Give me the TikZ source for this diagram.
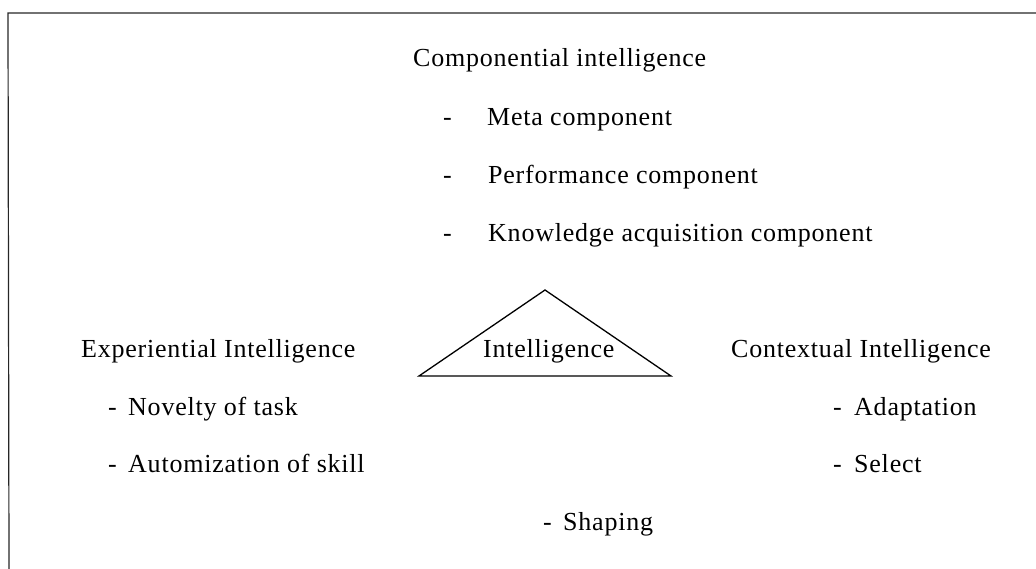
\documentclass[tikz,border=0pt]{standalone}
\usepackage{fontspec}
\setmainfont{Liberation Serif}[LetterSpace=3]
\begin{document}
\begin{tikzpicture}[x=1pt,y=-1pt,
  txt/.style={anchor=base west, inner sep=0pt, font=\fontsize{26}{30}\selectfont},
  frameline/.style={line width=1.2pt, black!85},
  tri/.style={line width=1.3pt, black}]
\useasboundingbox (0,0) rectangle (1036,569);
% frame
\coordinate (ftl) at (8,13);
\coordinate (ftr) at (1036,13);
\coordinate (fbl) at (9,569);
\draw[frameline] (ftr) -- (ftl) -- (fbl);
% componential
\node[txt] (comp) at (413,67) {Componential intelligence};
\node[txt] (d1) at (443,126) {-};
\node[txt] (meta) at (487,126) {Meta component};
\node[txt] (d2) at (443,184) {-};
\node[txt] (perf) at (488,184) {Performance component};
\node[txt] (d3) at (443,242) {-};
\node[txt] (know) at (488,242) {Knowledge acquisition component};
% triangle
\coordinate (apex) at (545,290);
\coordinate (bl) at (419,376);
\coordinate (br) at (671,376);
\draw[tri, line join=miter] (apex) -- (bl) -- (br) -- cycle;
\node[txt] (intel) at (483,357) {Intelligence};
% experiential
\node[txt] (exp) at (81,357) {Experiential Intelligence};
\node[txt] (d4) at (108,415) {-};
\node[txt] (nov) at (128,415) {Novelty of task};
\node[txt] (d5) at (108,472) {-};
\node[txt] (auto) at (128,472) {Automization of skill};
% contextual
\node[txt] (ctx) at (731,357) {Contextual Intelligence};
\node[txt] (d6) at (833,415) {-};
\node[txt] (adap) at (854,415) {Adaptation};
\node[txt] (d7) at (833,472) {-};
\node[txt] (sel) at (854,472) {Select};
\node[txt] (d8) at (543,530) {-};
\node[txt] (shap) at (563,530) {Shaping};
\end{tikzpicture}
\end{document}
